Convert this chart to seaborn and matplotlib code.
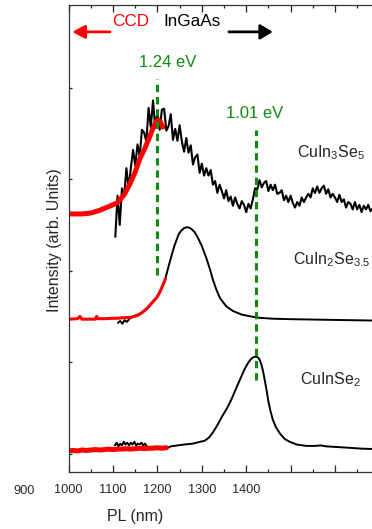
import numpy as np
import matplotlib
matplotlib.use("Agg")
import matplotlib.pyplot as plt
import seaborn as sns

# values (x in the axis' own tick units, y in arb. units)
# CuInSe2, InGaAs detector (black)
cis_x = [1104, 1108, 1112, 1116, 1120, 1124, 1128, 1132, 1136, 1140, 1144, 1148, 1152, 1156,
         1160, 1164, 1168, 1172, 1176, 1180, 1190, 1200, 1217, 1230, 1245, 1260, 1280, 1296,
         1306, 1316, 1326, 1336, 1346, 1356, 1366, 1376, 1386, 1396, 1404, 1410, 1416, 1422,
         1427, 1431, 1435, 1438, 1442, 1446, 1450, 1455, 1460, 1467, 1476, 1487, 1498, 1514,
         1535, 1555, 1568, 1580, 1597, 1630, 1660, 1690]
cis_y = [0.09, 0.12, 0.08, 0.11, 0.09, 0.13, 0.10, 0.12, 0.09, 0.12, 0.10, 0.13, 0.09, 0.11,
         0.10, 0.12, 0.09, 0.11, 0.08, 0.07, 0.05, 0.05, 0.05, 0.08, 0.09, 0.10, 0.11, 0.13,
         0.14, 0.175, 0.24, 0.32, 0.41, 0.49, 0.585, 0.70, 0.81, 0.92, 0.99, 1.03, 1.055, 1.06,
         1.05, 1.02, 0.96, 0.90, 0.80, 0.69, 0.57, 0.46, 0.37, 0.29, 0.22, 0.16, 0.13, 0.10,
         0.085, 0.085, 0.09, 0.08, 0.075, 0.065, 0.055, 0.05]
# CuInSe2, CCD detector (red)
cis_ccd_x = [1000, 1010, 1020, 1030, 1040, 1050, 1060, 1070, 1080, 1090, 1100, 1110, 1120,
             1130, 1140, 1150, 1160, 1170, 1180, 1190, 1200, 1210, 1220]
cis_ccd_y = [0.03, 0.035, 0.03, 0.04, 0.035, 0.04, 0.045, 0.04, 0.045, 0.05, 0.045, 0.05,
             0.05, 0.055, 0.05, 0.055, 0.06, 0.055, 0.06, 0.06, 0.065, 0.06, 0.065]

# CuIn2Se3.5
mid_x = [1111, 1116, 1121, 1126, 1131, 1138, 1150, 1160, 1171, 1177, 1188, 1199, 1212, 1217,
         1228, 1238, 1248, 1254, 1260, 1266, 1272, 1278, 1284, 1290, 1300, 1310, 1318, 1325,
         1333, 1341, 1355, 1370, 1390, 1410, 1430, 1460, 1500, 1560, 1620, 1690]
mid_y = [1.43, 1.45, 1.42, 1.46, 1.44, 1.48, 1.51, 1.53, 1.56, 1.59, 1.65, 1.71, 1.84, 1.90,
         2.10, 2.27, 2.40, 2.44, 2.465, 2.475, 2.47, 2.45, 2.42, 2.37, 2.27, 2.14, 2.02, 1.90,
         1.79, 1.70, 1.61, 1.56, 1.52, 1.50, 1.485, 1.475, 1.47, 1.465, 1.46, 1.455]
mid_ccd_x = [1000, 1020, 1025, 1030, 1040, 1060, 1063, 1066, 1080, 1100, 1110, 1120, 1140,
             1155, 1165, 1177, 1188, 1199, 1206, 1212, 1218]
mid_ccd_y = [1.47, 1.475, 1.50, 1.47, 1.47, 1.47, 1.50, 1.475, 1.475, 1.48, 1.48, 1.485, 1.49,
             1.51, 1.54, 1.59, 1.65, 1.71, 1.77, 1.84, 1.91]

# CuIn3Se5 (noisy InGaAs trace, sampled every 5 units from 1105)
top_x = np.arange(1105, 1690, 5)
top_y = [2.37, 2.82, 2.50, 2.90, 2.81, 3.12, 2.90, 3.12, 3.32, 3.15, 3.38, 3.25, 3.54, 3.51,
         3.41, 3.78, 3.57, 3.86, 3.56, 3.74, 3.54, 3.76, 3.77, 3.53, 3.58, 3.71, 3.43, 3.55,
         3.42, 3.59, 3.41, 3.30, 3.45, 3.29, 3.37, 3.16, 3.24, 3.27, 3.07, 3.17,
         3.04, 3.12, 3.04, 3.10, 2.94, 2.98, 2.85, 2.94, 2.87, 2.79, 2.88, 2.76, 2.81, 2.71,
         2.80, 2.73, 2.68, 2.76, 2.72, 2.64, 2.73, 2.68,
         2.78, 2.90, 2.89, 2.99, 2.91, 2.96, 2.98, 2.87, 2.94, 2.88, 2.94, 2.84, 2.85, 2.88,
         2.77, 2.82, 2.75, 2.82, 2.74, 2.69, 2.75, 2.71, 2.80, 2.75, 2.80, 2.84, 2.80, 2.90,
         2.85, 2.92, 2.85, 2.90, 2.93, 2.84, 2.89, 2.80, 2.84, 2.80, 2.75, 2.83, 2.75, 2.78,
         2.69, 2.75, 2.73, 2.67, 2.75, 2.67, 2.72, 2.64, 2.71, 2.67, 2.72, 2.65, 2.68]
top_ccd_x = [1000, 1030, 1050, 1070, 1090, 1109, 1125, 1138, 1150, 1160, 1171, 1183, 1190,
             1196, 1201, 1206, 1212]
top_ccd_y = [2.62, 2.62, 2.63, 2.66, 2.70, 2.74, 2.83, 2.95, 3.08, 3.22, 3.33, 3.47, 3.56,
             3.62, 3.647, 3.63, 3.57]

# band-gap markers
gap_labels = ["1.24 eV", "1.01 eV"]
gap_x = [1200, 1422]
gap_ymin = [1.95, 0.80]
gap_ymax = [4.10, 3.54]
gap_label_x = [1224, 1420]
gap_label_y = [4.28, 3.72]

x_ticks = [1000, 1100, 1200, 1300, 1400, 1500, 1600]
x_ticklabels = ["1000", "1100", "1200", "1300", "1400", "", ""]

sns.set_style("ticks")
plt.rcParams['font.family'] = ['Liberation Sans', 'DejaVu Sans']
plt.rcParams['mathtext.fontset'] = 'custom'
plt.rcParams['mathtext.rm'] = 'Liberation Sans'
plt.rcParams['mathtext.it'] = 'Liberation Sans'

fig = plt.figure(figsize=(3.72, 5.29), dpi=100)
ax = fig.add_axes([0.1847, 0.1078, 0.8207, 0.8828])

green = "#108a10"

# black (InGaAs) traces first, red (CCD) on top
sns.lineplot(x=cis_x, y=cis_y, color="black", lw=1.4, ax=ax)
sns.lineplot(x=mid_x, y=mid_y, color="black", lw=1.4, ax=ax)
sns.lineplot(x=top_x, y=top_y, color="black", lw=1.5, ax=ax)
sns.lineplot(x=cis_ccd_x, y=cis_ccd_y, color="red", lw=3.6, ax=ax)
sns.lineplot(x=mid_ccd_x, y=mid_ccd_y, color="red", lw=2.2, ax=ax)
sns.lineplot(x=top_ccd_x, y=top_ccd_y, color="red", lw=3.6, ax=ax)

for xg, y0, y1, lab, lx, ly in zip(gap_x, gap_ymin, gap_ymax, gap_labels, gap_label_x, gap_label_y):
    ax.plot([xg, xg], [y0, y1], color=green, lw=2.2, dashes=(2.4, 1.6))
    ax.text(lx, ly, lab, color=green, fontsize=12, ha="center", va="center")

# detector arrows
ax.text(1140, 4.72, "CCD", color="red", fontsize=12.3, ha="center", va="center")
ax.text(1278, 4.72, "InGaAs", color="black", fontsize=12.3, ha="center", va="center")
ax.annotate("", xy=(1008, 4.61), xytext=(1093, 4.61),
            arrowprops=dict(arrowstyle="-|>,head_length=0.75,head_width=0.4",
                            color="red", lw=2, mutation_scale=10, shrinkA=0, shrinkB=0))
ax.annotate("", xy=(1460, 4.61), xytext=(1361, 4.61),
            arrowprops=dict(arrowstyle="-|>,head_length=0.75,head_width=0.45",
                            color="black", lw=2, mutation_scale=10, shrinkA=0, shrinkB=0))

# sample names
ax.text(1515, 3.29, "CuIn$_3$Se$_5$", fontsize=11.5, ha="left", va="center")
ax.text(1506, 2.12, "CuIn$_2$Se$_{3.5}$", fontsize=11.5, ha="left", va="center")
ax.text(1521, 0.81, "CuInSe$_2$", fontsize=11.5, ha="left", va="center")

ax.set_xlim(1000, 1688)
ax.set_ylim(-0.2, 4.904)
ax.set_xticks(x_ticks)
ax.set_xticklabels(x_ticklabels, fontsize=9.2)
ax.set_xticks(np.arange(1050, 1688, 100), minor=True)
ax.set_yticks([0, 1, 2, 3, 4])
ax.set_yticklabels([])
ax.tick_params(axis="x", which="major", direction="in", length=5, width=0.9, top=True, pad=9)
ax.tick_params(axis="x", which="minor", direction="in", length=2.5, width=0.9, top=True)
ax.tick_params(axis="y", direction="in", length=2.5, width=0.9)
ax.set_xlabel("")
ax.set_ylabel("")
for s in ax.spines.values():
    s.set_linewidth(0.9)
    s.set_color("#333333")

# the reference also prints a "900" label left of the frame
ax.text(900, -0.2 - 13 / 91.5, "900", fontsize=9.2, ha="center", va="top", clip_on=False)

fig.text(55 / 372, 1 - 240 / 529, "Intensity (arb. Units)", rotation=90,
         fontsize=11.5, ha="center", va="center")
fig.text(135 / 372, 1 - 517 / 529, "PL (nm)", fontsize=11.5, ha="center", va="center")

fig.savefig("out.png", dpi=100)
